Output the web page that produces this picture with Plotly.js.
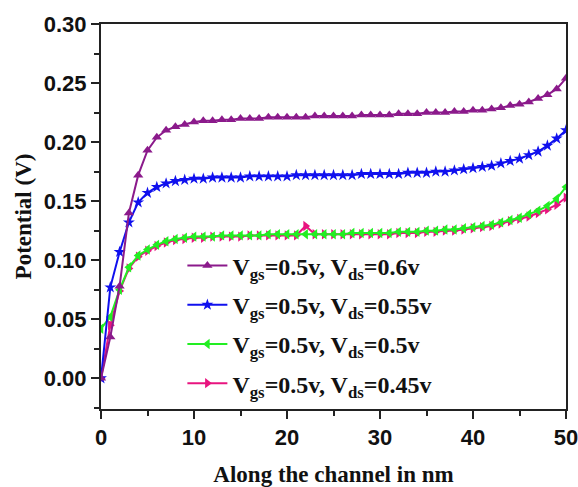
<!DOCTYPE html>
<html>
<head>
<meta charset="utf-8">
<script src="https://cdn.plot.ly/plotly-3.0.1.min.js"></script>
<style>html,body{margin:0;padding:0;background:#fff;}#chart{width:578px;height:487px;}</style>
</head>
<body>
<div id="chart"></div>
<script>
// Position along the channel (nm)
const xNm = [0,1,2,3,4,5,6,7,8,9,10,11,12,13,14,15,16,17,18,19,20,21,22,23,24,25,26,27,28,29,30,31,32,33,34,35,36,37,38,39,40,41,42,43,44,45,46,47,48,49,50];

// Vds = 0.6 V
const vds060 = [0.000,0.035,0.078,0.140,0.172,0.193,0.204,0.210,0.213,0.215,0.217,0.218,0.218,0.219,0.219,0.220,0.220,0.220,0.221,0.221,0.221,0.221,0.221,0.222,0.222,0.222,0.222,0.222,0.223,0.223,0.223,0.223,0.224,0.224,0.224,0.225,0.225,0.225,0.226,0.226,0.227,0.227,0.228,0.229,0.231,0.232,0.234,0.237,0.240,0.245,0.254];
// Vds = 0.55 V
const vds055 = [0.000,0.077,0.107,0.132,0.149,0.157,0.162,0.165,0.167,0.168,0.169,0.169,0.170,0.170,0.170,0.170,0.171,0.171,0.171,0.171,0.171,0.172,0.172,0.172,0.172,0.172,0.172,0.172,0.173,0.173,0.173,0.173,0.173,0.174,0.174,0.174,0.175,0.175,0.176,0.177,0.178,0.179,0.180,0.182,0.184,0.186,0.189,0.192,0.197,0.203,0.210];
// Vds = 0.5 V
const vds050 = [0.042,0.052,0.075,0.094,0.104,0.109,0.113,0.116,0.118,0.119,0.120,0.120,0.120,0.121,0.121,0.121,0.121,0.121,0.122,0.122,0.122,0.122,0.122,0.122,0.122,0.122,0.122,0.123,0.123,0.123,0.123,0.123,0.124,0.124,0.124,0.125,0.125,0.126,0.126,0.127,0.128,0.129,0.130,0.132,0.134,0.136,0.139,0.142,0.146,0.152,0.162];
// Vds = 0.45 V
const vds045 = [0.000,0.045,0.074,0.093,0.103,0.108,0.112,0.115,0.117,0.118,0.119,0.119,0.120,0.120,0.120,0.120,0.121,0.121,0.121,0.121,0.121,0.121,0.129,0.122,0.122,0.122,0.122,0.122,0.122,0.122,0.122,0.122,0.123,0.123,0.123,0.124,0.124,0.125,0.125,0.126,0.127,0.128,0.129,0.131,0.133,0.135,0.137,0.140,0.143,0.147,0.153];

const seriesNames = [
  "V<sub>gs</sub>=0.5v, V<sub>ds</sub>=0.6v",
  "V<sub>gs</sub>=0.5v, V<sub>ds</sub>=0.55v",
  "V<sub>gs</sub>=0.5v, V<sub>ds</sub>=0.5v",
  "V<sub>gs</sub>=0.5v, V<sub>ds</sub>=0.45v"
];
const xTickVals = [0,10,20,30,40,50];
const yTickVals = [0.00,0.05,0.10,0.15,0.20,0.25,0.30];

function tr(y, name, color, symbol, rank) {
  return {
    x: xNm, y: y, name: name, type: 'scatter', mode: 'lines+markers',
    line: {color: color, width: 2},
    marker: {color: color, symbol: symbol, size: 9, line: {width: 0}},
    legendrank: rank, legendgroup: 'g' + rank
  };
}

const data = [
  tr(vds045, seriesNames[3], '#e8147f', 'triangle-right', 4),
  tr(vds050, seriesNames[2], '#22ee22', 'triangle-left', 3),
  tr(vds055, seriesNames[1], '#1010ee', 'star', 2),
  tr(vds060, seriesNames[0], '#8b1a8b', 'triangle-up', 1)
];

const axisCommon = {
  showgrid: false, zeroline: false, showline: true, mirror: true,
  linecolor: '#222', linewidth: 2, ticks: 'outside', ticklen: 8, tickwidth: 2, tickcolor: '#222',
  ticklabeloverflow: 'allow',
  tickfont: {family: 'Liberation Sans, Arial, sans-serif', size: 22, color: '#111', weight: 'bold'}
};

const layout = {
  width: 578, height: 487,
  margin: {l: 101, r: 12, t: 24, b: 78},
  paper_bgcolor: '#fff', plot_bgcolor: '#fff',
  showlegend: true,
  legend: {
    x: 0.175, y: 0.43, xanchor: 'left', yanchor: 'top',
    bgcolor: 'rgba(0,0,0,0)', borderwidth: 0,
    font: {family: 'Liberation Serif, Times New Roman, serif', size: 24, color: '#111', weight: 'bold'},
    itemwidth: 40, tracegroupgap: 5
  },
  xaxis: Object.assign({}, axisCommon, {
    range: [0, 50], tickvals: xTickVals, ticktext: xTickVals.map(String),
    minor: {dtick: 5, ticks: 'outside', ticklen: 5, tickwidth: 2, tickcolor: '#222'},
    title: {text: 'Along the channel in nm', standoff: 24,
      font: {family: 'Liberation Serif, Times New Roman, serif', size: 23, color: '#111', weight: 'bold'}}
  }),
  yaxis: Object.assign({}, axisCommon, {
    range: [-0.026, 0.30], tickvals: yTickVals, ticktext: yTickVals.map(v => v.toFixed(2)),
    minor: {dtick: 0.025, tick0: 0, ticks: 'outside', ticklen: 5, tickwidth: 2, tickcolor: '#222'},
    title: {text: 'Potential (V)', standoff: 6,
      font: {family: 'Liberation Serif, Times New Roman, serif', size: 23, color: '#111', weight: 'bold'}}
  })
};

Plotly.newPlot('chart', data, layout, {displayModeBar: false, staticPlot: true});
</script>
</body>
</html>
